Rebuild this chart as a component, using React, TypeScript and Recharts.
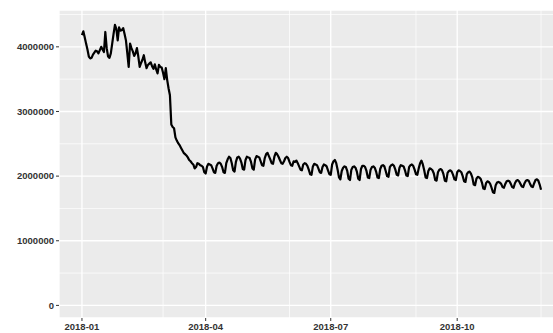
import React from 'react';
import { LineChart, Line, XAxis, YAxis, CartesianGrid } from 'recharts';

// daily totals in thousands, 2018-01-01 .. 2018-12-01
const jan = [
  4180, 4240, 4150, 4050, 3960, 3850, 3820,
  3830, 3880, 3910, 3940, 3930, 3900, 3950,
  4000, 3960, 3920, 4230, 3980, 3850, 3830,
  3900, 4050, 4200, 4340, 4280, 4100, 4300,
  4250, 4260, 4290,
];
const feb = [
  4200, 4100, 3900, 3690,
  4050, 3980, 3930, 3860, 3900, 3980, 3850,
  3690, 3750, 3800, 3870, 3760, 3670, 3720,
  3740, 3760, 3700, 3660, 3730, 3650, 3590,
  3720, 3690, 3680,
];
const mar = [
  3600, 3500, 3670, 3490,
  3360, 3250, 2800, 2760, 2740, 2600, 2550,
  2510, 2480, 2440, 2400, 2360, 2340, 2320,
  2290, 2250, 2230, 2200, 2180, 2120, 2140,
  2200, 2190, 2170, 2160, 2140, 2060,
];
const apr = [
  2040,
  2150, 2190, 2180, 2170, 2120, 2060, 2050,
  2160, 2200, 2210, 2190, 2140, 2060, 2050,
  2200, 2260, 2300, 2280, 2200, 2090, 2070,
  2220, 2290, 2300, 2270, 2210, 2110, 2100,
  2250,
];
const may = [
  2300, 2290, 2280, 2220, 2120, 2100,
  2260, 2310, 2300, 2290, 2230, 2170, 2160,
  2280, 2340, 2360, 2310, 2260, 2200, 2190,
  2300, 2360, 2340, 2300, 2250, 2200, 2190,
  2230, 2280, 2300, 2280,
];
const jun = [
  2220, 2170, 2160,
  2230, 2220, 2240, 2200, 2150, 2100, 2090,
  2180, 2200, 2190, 2160, 2100, 2030, 2020,
  2150, 2190, 2180, 2170, 2120, 2060, 2050,
  2140, 2180, 2170, 2150, 2090, 2030,
];
const jul = [
  2020,
  2180, 2230, 2250, 2200, 2100, 1980, 1950,
  2080, 2130, 2150, 2140, 2080, 1960, 1940,
  2100, 2140, 2150, 2130, 2070, 1960, 1940,
  2110, 2160, 2160, 2140, 2080, 1980, 1970,
  2100, 2140,
];
const aug = [
  2150, 2130, 2070, 1980, 1970,
  2110, 2160, 2170, 2150, 2080, 2000, 1990,
  2140, 2170, 2180, 2160, 2100, 2020, 2010,
  2130, 2170, 2160, 2150, 2090, 2010, 2000,
  2140, 2170, 2180, 2160, 2100,
];
const sep = [
  2030, 2020,
  2120, 2200, 2240, 2180, 2090, 1980, 1970,
  2080, 2120, 2110, 2090, 2040, 1940, 1930,
  2060, 2100, 2110, 2090, 2030, 1930, 1920,
  2050, 2080, 2090, 2070, 2020, 1950, 1940,
];
const oct = [
  2060, 2090, 2080, 2060, 2000, 1920, 1910,
  2030, 2060, 2070, 2040, 1980, 1870, 1860,
  1960, 1990, 1980, 1960, 1900, 1810, 1800,
  1890, 1920, 1910, 1880, 1820, 1750, 1740,
  1860, 1900, 1910,
];
const nov = [
  1900, 1880, 1830, 1820,
  1880, 1920, 1930, 1920, 1880, 1830, 1820,
  1890, 1930, 1940, 1920, 1880, 1840, 1830,
  1890, 1930, 1940, 1930, 1880, 1840, 1830,
  1890, 1940, 1950, 1930, 1870,
];
const dec = [1790];

const months = [jan, feb, mar, apr, may, jun, jul, aug, sep, oct, nov, dec];

const yTicks = [0, 1000000, 2000000, 3000000, 4000000];
const yMinor = [500000, 1500000, 2500000, 3500000, 4500000];
const xTickMonths = [0, 3, 6, 9];
const xMinorMonths = [1, 2, 4, 5, 7, 8, 10, 11];

const data = months.flatMap((vals, m) =>
  vals.map((v, i) => ({ date: Date.UTC(2018, m, i + 1), value: v * 1000 }))
);
const first = data[0].date;
const last = data[data.length - 1].date;
const pad = (last - first) * 0.05;

const xTicks = xTickMonths.map((m) => Date.UTC(2018, m, 1));
const xMinor = xMinorMonths.map((m) => Date.UTC(2018, m, 1));

const fmtDate = (v: number) => {
  const d = new Date(v);
  return `${d.getUTCFullYear()}-${String(d.getUTCMonth() + 1).padStart(2, '0')}`;
};

const tickStyle = { fontSize: 9.5, fill: '#333', fontWeight: 'bold', fontFamily: '"Liberation Sans", Arial, sans-serif' };

export default function App() {
  return (
    <div style={{ position: 'fixed', left: 0, top: 0, width: 553, height: 333, overflow: 'hidden', background: '#fff' }}>
      <LineChart width={564} height={333} data={data} margin={{ top: 10, right: 0, bottom: 0, left: 0 }}>
        <CartesianGrid
          fill="#EBEBEB"
          stroke="#fff"
          strokeWidth={0.7}
          horizontalValues={yMinor}
          verticalValues={xMinor}
        />
        <CartesianGrid stroke="#fff" strokeWidth={1.3} />
        <XAxis
          dataKey="date"
          type="number"
          domain={[first - pad, last + pad]}
          ticks={xTicks}
          tickFormatter={fmtDate}
          height={15}
          axisLine={false}
          tickLine={{ stroke: '#333' }}
          tickSize={3}
          tickMargin={2}
          tick={tickStyle}
          allowDataOverflow
        />
        <YAxis
          type="number"
          domain={[-195000, 4570000]}
          ticks={yTicks}
          width={59}
          axisLine={false}
          tickLine={{ stroke: '#333' }}
          tickSize={3}
          tickMargin={2}
          tick={tickStyle}
          allowDataOverflow
        />
        <Line
          type="linear"
          dataKey="value"
          stroke="#000"
          strokeWidth={2.2}
          strokeLinejoin="round"
          dot={false}
          isAnimationActive={false}
        />
      </LineChart>
    </div>
  );
}
